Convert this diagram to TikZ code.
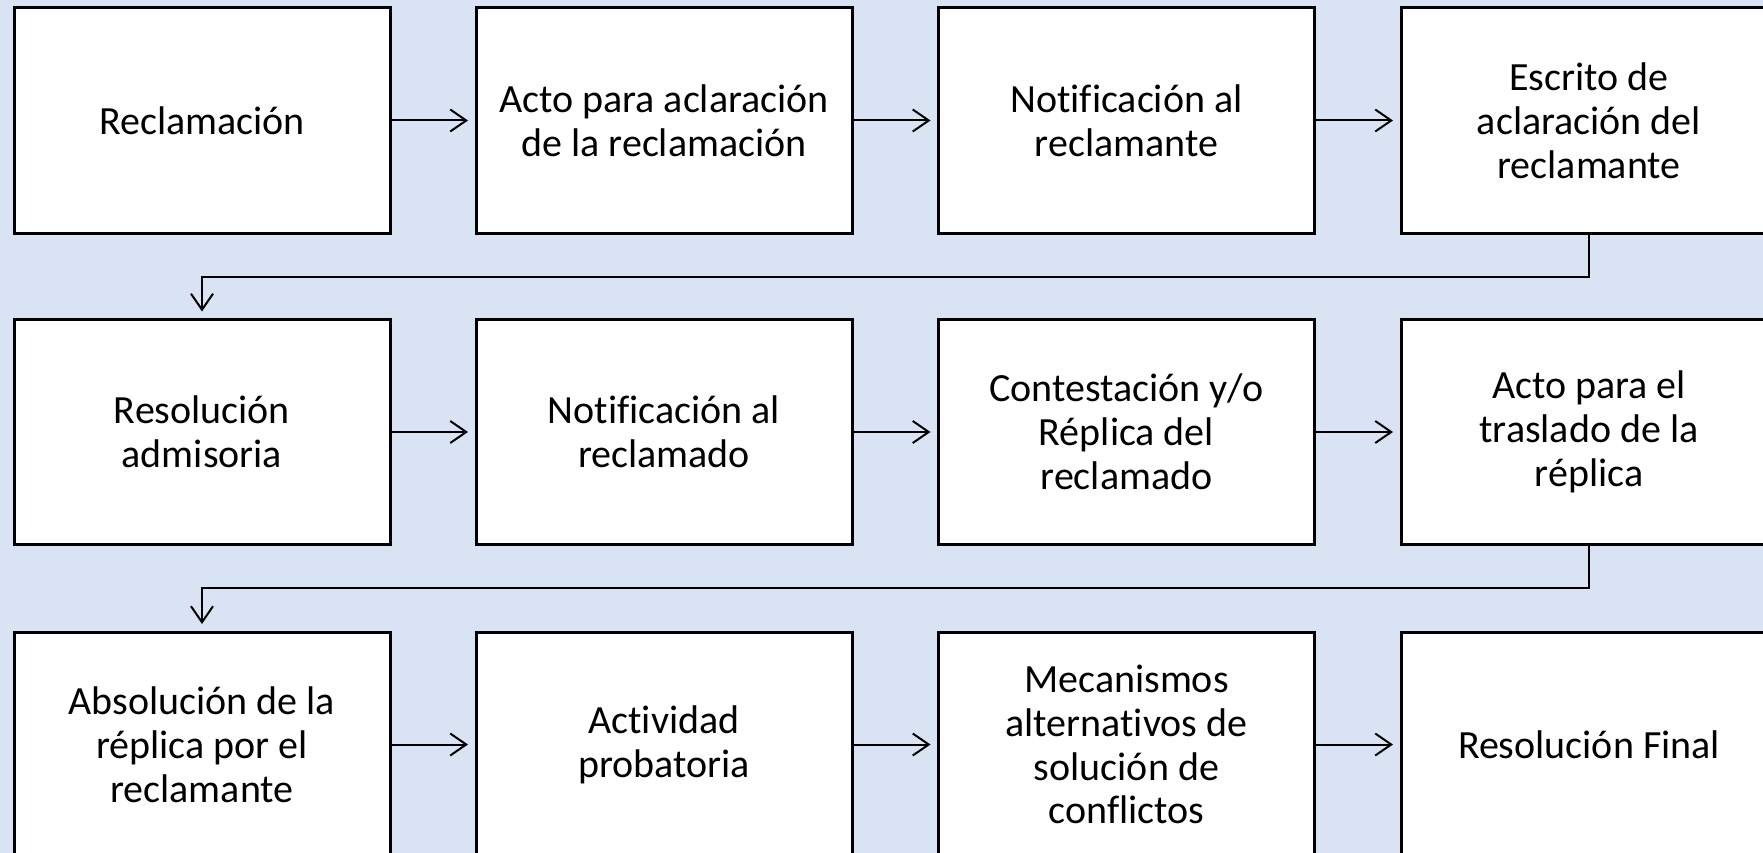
\documentclass[tikz,border=0pt]{standalone}
\usepackage{fontspec}
\setmainfont{Carlito}[Ligatures=NoCommon]
\usetikzlibrary{arrows.meta}
\definecolor{bg}{HTML}{DAE3F3}
\begin{document}
\begin{tikzpicture}[x=1pt,y=-1pt,
 box/.style={draw=black, fill=white, line width=3pt, minimum width=376pt, minimum height=225pt, inner sep=0pt, outer sep=0pt, align=center, anchor=north west, font=\fontsize{40}{43.8}\selectfont},
 conn/.style={line width=2pt, -{Straight Barb[length=16pt,width=22pt,line width=2pt]}, shorten >=8pt}]
\clip (0,0) rectangle (1763,853);
\fill[bg] (0,0) rectangle (1763,853);
% row 1
\node[box] (a1) at (14,8) {Reclamación};
\node[box] (a2) at (476,8) {Acto para aclaración\\de la reclamación};
\node[box] (a3) at (938.5,8) {Notificación al\\reclamante};
\node[box] (a4) at (1401,8) {Escrito de\\aclaración del\\reclamante};
% row 2
\node[box] (b1) at (14,319.5) {Resolución\\admisoria};
\node[box] (b2) at (476,319.5) {Notificación al\\reclamado};
\node[box] (b3) at (938.5,319.5) {Contestación y/o\\Réplica del\\reclamado};
\node[box] (b4) at (1401,319.5) {Acto para el\\traslado de la\\réplica};
% row 3
\node[box] (c1) at (14,632) {Absolución de la\\réplica por el\\reclamante};
\node[box] (c2) at (476,632) {Actividad\\probatoria};
\node[box] (c3) at (938.5,632) {Mecanismos\\alternativos de\\solución de\\conflictos};
\node[box] (c4) at (1401,632) {Resolución Final};
% connectors
\draw[conn] (a1.east) -- (a2.west);
\draw[conn] (a2.east) -- (a3.west);
\draw[conn] (a3.east) -- (a4.west);
\draw[conn] (a4.south) -- ++(0,43.5) -| (b1.north);
\draw[conn] (b1.east) -- (b2.west);
\draw[conn] (b2.east) -- (b3.west);
\draw[conn] (b3.east) -- (b4.west);
\draw[conn] (b4.south) -- ++(0,43) -| (c1.north);
\draw[conn] (c1.east) -- (c2.west);
\draw[conn] (c2.east) -- (c3.west);
\draw[conn] (c3.east) -- (c4.west);
\end{tikzpicture}
\end{document}
